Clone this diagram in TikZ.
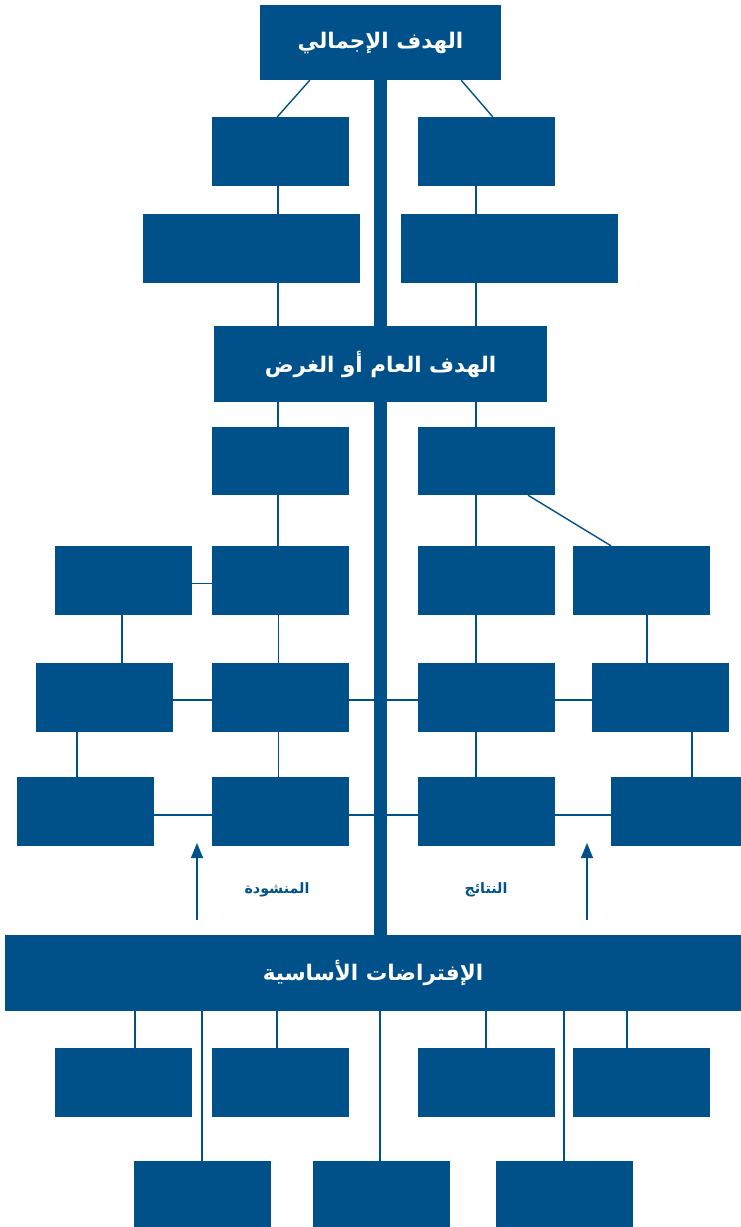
\documentclass[tikz,border=0pt]{standalone}
\usepackage{fontspec}
\newfontfamily\arabicfont[Script=Arabic]{DejaVu Sans}
\TeXXeTstate=1
\usetikzlibrary{arrows.meta}
\pgfdeclarelayer{background}
\pgfsetlayers{background,main}
\definecolor{navy}{RGB}{0,81,137}
\tikzset{
  box/.style={fill=navy, draw=none, minimum width=137pt, minimum height=69pt, inner sep=0pt, anchor=center},
  bigbox/.style={box, text=white, font=\arabicfont\bfseries\fontsize{21.5}{24}\selectfont},
  conn/.style={draw=navy, line width=1.4pt},
  bar/.style={draw=navy, line width=13.5pt},
  arr/.style={draw=navy, line width=1.4pt, -{Triangle[width=12pt,length=15pt]}},
  lab/.style={text=navy, font=\arabicfont\bfseries\fontsize{14.3}{16}\selectfont, inner sep=0pt}
}
\begin{document}
\begin{tikzpicture}[x=1pt,y=-1pt]
\useasboundingbox (0,0) rectangle (741,1227);
% nodes
\node[bigbox, minimum width=241pt, minimum height=75pt] (top) at (380.5,42.5) {\beginR الهدف الإجمالي\endR};
\node[box] (r1l) at (280,151.5) {};
\node[box] (r1r) at (486,151.5) {};
\node[box, minimum width=217pt] (r2l) at (251.5,248.5) {};
\node[box, minimum width=217pt] (r2r) at (509.5,248.5) {};
\node[bigbox, minimum width=333pt, minimum height=76pt] (mid) at (380.5,364) {\beginR الهدف العام أو الغرض\endR};
\node[box, minimum height=68pt] (r3l) at (280,461) {};
\node[box, minimum height=68pt] (r3r) at (486,461) {};
\node[box] (r4a) at (123.5,580.5) {};
\node[box] (r4b) at (280.5,580.5) {};
\node[box] (r4c) at (486.5,580.5) {};
\node[box] (r4d) at (641.5,580.5) {};
\node[box] (r5a) at (104.5,697.5) {};
\node[box] (r5b) at (280.5,697.5) {};
\node[box] (r5c) at (486.5,697.5) {};
\node[box] (r5d) at (660.5,697.5) {};
\node[box] (r6a) at (85.5,811.5) {};
\node[box] (r6b) at (280.5,811.5) {};
\node[box] (r6c) at (486.5,811.5) {};
\node[box, minimum width=130pt] (r6d) at (676,811.5) {};
\node[bigbox, minimum width=736pt, minimum height=76pt] (bot) at (373,973) {\beginR الإفتراضات الأساسية\endR};
\node[box] (r7a) at (123.5,1082.5) {};
\node[box] (r7b) at (280.5,1082.5) {};
\node[box] (r7c) at (486.5,1082.5) {};
\node[box] (r7d) at (641.5,1082.5) {};
\node[box, minimum height=66pt] (r8a) at (202,1194) {};
\node[box, minimum height=66pt] (r8b) at (381,1194) {};
\node[box, minimum height=66pt] (r8c) at (564,1194) {};
% labels
\node[lab] (l1) at (277,890) {\beginR المنشودة\endR};
\node[lab] (l2) at (486,890) {\beginR النتائج\endR};
% arrow coordinates
\coordinate (a1s) at (197,920);
\coordinate (a1e) at (197,843);
\coordinate (a2s) at (587,920);
\coordinate (a2e) at (587,843);
\begin{pgfonlayer}{background}
% top connectors
\draw[conn] ([xshift=50pt]top.south west) -- ([xshift=66pt]r1l.north west);
\draw[conn] ([xshift=-40pt]top.south east) -- ([xshift=-62pt]r1r.north east);
\draw[conn] ([xshift=-2pt]r1l.south) -- ([xshift=-2pt]r1l.south |- r2l.north);
\draw[conn] ([xshift=-10pt]r1r.south) -- ([xshift=-10pt]r1r.south |- r2r.north);
\draw[conn] ([xshift=-2pt]r1l.south |- r2l.south) -- ([xshift=-2pt]r1l.south |- mid.north);
\draw[conn] ([xshift=-10pt]r1r.south |- r2r.south) -- ([xshift=-10pt]r1r.south |- mid.north);
\draw[conn] ([xshift=-2pt]r3l.north |- mid.south) -- ([xshift=-2pt]r3l.north);
\draw[conn] ([xshift=-10pt]r3r.north |- mid.south) -- ([xshift=-10pt]r3r.north);
% column b / c
\draw[conn] ([xshift=-2pt]r3l.south) -- ([xshift=-2pt]r3l.south |- r4b.north);
\draw[conn] ([xshift=-2pt]r4b.south) -- ([xshift=-2pt]r4b.south |- r5b.north);
\draw[conn] ([xshift=-2pt]r5b.south) -- ([xshift=-2pt]r5b.south |- r6b.north);
\draw[conn] ([xshift=-10pt]r3r.south) -- ([xshift=-10pt]r3r.south |- r4c.north);
\draw[conn] ([xshift=-10.5pt]r4c.south) -- ([xshift=-10.5pt]r4c.south |- r5c.north);
\draw[conn] ([xshift=-10.5pt]r5c.south) -- ([xshift=-10.5pt]r5c.south |- r6c.north);
\draw[conn] ([xshift=42pt]r3r.south) -- ([xshift=-30.5pt]r4d.north);
% left columns
\draw[conn] ([yshift=-3pt]r4a.east) -- ([yshift=-3pt]r4b.west);
\draw[conn] ([xshift=-1.5pt]r4a.south) -- ([xshift=-1.5pt]r4a.south |- r5a.north);
\draw[conn] ([xshift=-8.5pt]r6a.north) -- ([xshift=-8.5pt]r6a.north |- r5a.south);
\draw[conn] ([yshift=-2.5pt]r5a.east) -- ([yshift=-2.5pt]r5b.west);
\draw[conn] ([yshift=-2.5pt]r5b.east) -- ([yshift=-2.5pt]r5c.west);
\draw[conn] ([yshift=-2.5pt]r5c.east) -- ([yshift=-2.5pt]r5d.west);
\draw[conn] ([yshift=-3.5pt]r6a.east) -- ([yshift=-3.5pt]r6b.west);
\draw[conn] ([yshift=-3.5pt]r6b.east) -- ([yshift=-3.5pt]r6c.west);
\draw[conn] ([yshift=-3.5pt]r6c.east) -- ([yshift=-3.5pt]r6d.west);
% right column
\draw[conn] ([xshift=5.5pt]r4d.south) -- ([xshift=5.5pt]r4d.south |- r5d.north);
\draw[conn] ([xshift=16pt]r6d.north) -- ([xshift=16pt]r6d.north |- r5d.south);
% bottom connectors
\draw[conn] ([xshift=11.5pt]r7a.north |- bot.south) -- ([xshift=11.5pt]r7a.north);
\draw[conn] (r8a.north |- bot.south) -- (r8a.north);
\draw[conn] ([xshift=-3.5pt]r7b.north |- bot.south) -- ([xshift=-3.5pt]r7b.north);
\draw[conn] ([xshift=-1pt]r8b.north |- bot.south) -- ([xshift=-1pt]r8b.north);
\draw[conn] ([xshift=-0.5pt]r7c.north |- bot.south) -- ([xshift=-0.5pt]r7c.north);
\draw[conn] (r8c.north |- bot.south) -- (r8c.north);
\draw[conn] ([xshift=-14.5pt]r7d.north |- bot.south) -- ([xshift=-14.5pt]r7d.north);
% spine
\draw[bar] (top.south) -- (top.south |- bot.north);
\end{pgfonlayer}
% arrows
\draw[arr] (a1s) -- (a1e);
\draw[arr] (a2s) -- (a2e);
\end{tikzpicture}
\end{document}
